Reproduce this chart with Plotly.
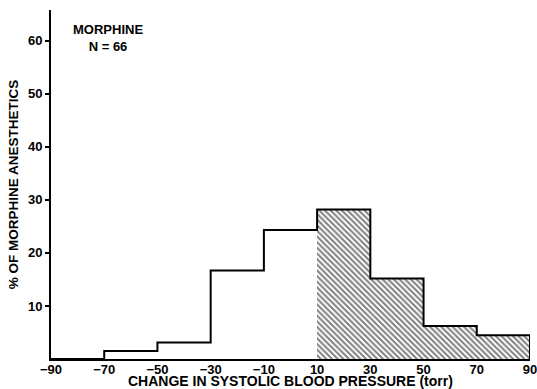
import plotly.graph_objects as go

# Data
bin_edges = [-70, -50, -30, -10, 10, 30, 50, 70, 90]
percent = [1.5, 3.1, 16.7, 24.3, 28.2, 15.2, 6.2, 4.5]
hatched_from = 10  # bins at or above this left edge are hatched (rise in pressure)
x_ticks = [-90, -70, -50, -30, -10, 10, 30, 50, 70, 90]
y_ticks = [10, 20, 30, 40, 50, 60]

FONT = "Liberation Sans"
BOLD = dict(family=FONT, size=13, color="black", weight="bold")

fig = go.Figure()

# hatched bars
hx, hy, hw = [], [], []
for i, v in enumerate(percent):
    left, right = bin_edges[i], bin_edges[i + 1]
    if left >= hatched_from:
        hx.append((left + right) / 2)
        hy.append(v)
        hw.append(right - left)
fig.add_trace(go.Bar(
    x=hx, y=hy, width=hw,
    marker=dict(color="white", line=dict(width=0),
                pattern=dict(shape="\\", fgcolor="black", bgcolor="white",
                             size=4, solidity=0.5)),
    showlegend=False, hoverinfo="skip",
))

# step outline
sx = [x_ticks[0]] + bin_edges[:-1] + [bin_edges[-1], bin_edges[-1]]
sy = [0] + percent + [percent[-1], 0]
fig.add_trace(go.Scatter(
    x=sx, y=sy, mode="lines", line=dict(color="black", width=2, shape="hv"),
    showlegend=False, hoverinfo="skip",
))

fig.add_annotation(x=-68.6, y=60.5, xref="x", yref="y", showarrow=False,
                   text="MORPHINE<br>N = 66", align="center", font=BOLD)

fig.add_annotation(x=0.5, y=0, xref="paper", yref="paper", xanchor="center",
                   yanchor="top", yshift=-12, showarrow=False,
                   text="CHANGE IN SYSTOLIC BLOOD PRESSURE (torr)",
                   font=dict(BOLD, size=14))

fig.update_layout(
    width=537, height=389,
    margin=dict(l=51, r=7, t=10, b=30, autoexpand=False),
    paper_bgcolor="white", plot_bgcolor="white",
    font=BOLD,
    bargap=0,
    xaxis=dict(range=[-90, 90], tickvals=x_ticks,
               ticktext=[("−" + str(-t)) if t < 0 else str(t) for t in x_ticks],
               showline=True, linecolor="black", linewidth=2, ticks="",
               ticklabelstandoff=-3, ticklabeloverflow="allow", automargin=False,
               showgrid=False, zeroline=False, tickfont=BOLD),
    yaxis=dict(range=[0, 65.8], tickvals=y_ticks, showline=True, linecolor="black", linewidth=2,
               ticks="outside", ticklen=4, tickwidth=1.5, tickcolor="black",
               showgrid=False, zeroline=False, automargin=False,
               title=dict(text="% OF MORPHINE ANESTHETICS", standoff=6,
                          font=dict(BOLD, size=13.5)),
               tickfont=BOLD),
)

fig.write_html("out.html", config={"displayModeBar": False},
               post_script="document.body.style.margin='0';document.body.style.overflow='hidden';")
